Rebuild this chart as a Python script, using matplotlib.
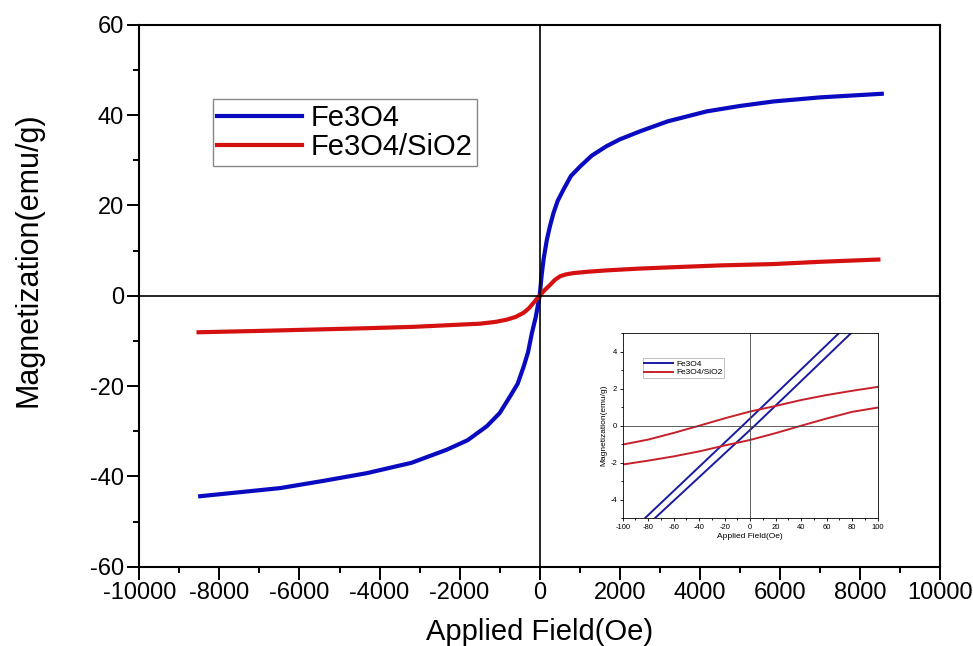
import matplotlib
matplotlib.use("Agg")
import matplotlib.pyplot as plt
from matplotlib.ticker import MultipleLocator

plt.rcParams['font.family'] = ['Liberation Sans', 'DejaVu Sans']
plt.rcParams['axes.unicode_minus'] = False

# main curves (Applied field in Oe, magnetization in emu/g)
h_fe = [-8480, -6480, -5400, -4320, -3200, -2320, -1800, -1320, -1000, -740, -550, -400, -290, -195, -100, -50, 0,
        50, 100, 180, 260, 345, 450, 595, 780, 1010, 1300, 1670, 2000, 2510, 3200, 4170, 5000, 5840, 7000, 8545]
m_fe = [-44.4, -42.6, -41.0, -39.3, -37.0, -34.1, -32.0, -28.9, -26.0, -22.3, -19.5, -15.7, -12.5, -8.3, -4.8, -2.4, 0.0,
        4.6, 8.2, 12.4, 15.5, 18.3, 21.0, 23.5, 26.5, 28.6, 31.0, 33.1, 34.6, 36.4, 38.6, 40.8, 42.0, 43.0, 43.9, 44.7]

h_si = [-8520, -7000, -5650, -4300, -3150, -2200, -1485, -1100, -820, -600, -404, -270, -155, -60, 0,
        60, 120, 262, 380, 510, 650, 845, 1200, 1670, 2500, 3340, 4500, 5840, 7000, 8460]
m_si = [-8.1, -7.8, -7.5, -7.2, -6.9, -6.5, -6.2, -5.8, -5.3, -4.7, -3.8, -2.8, -1.6, -0.6, 0.0,
        0.6, 1.2, 2.4, 3.5, 4.3, 4.7, 5.0, 5.3, 5.6, 6.0, 6.3, 6.7, 7.0, 7.5, 8.0]

# inset: low-field loops
hi_fe_dn = [-82.5, -6, 69.5]
mi_fe_dn = [-5.0, 0.0, 5.0]
hi_fe_up = [-74.7, 3.5, 79]
mi_fe_up = [-5.0, 0.0, 5.0]

hi_si = [-100, -80, -60, -40, -20, 0, 20, 40, 60, 80, 100]
mi_si_dn = [-1.02, -0.75, -0.39, 0.0, 0.4, 0.77, 1.07, 1.39, 1.66, 1.89, 2.1]
mi_si_up = [-2.1, -1.89, -1.66, -1.39, -1.07, -0.77, -0.4, 0.0, 0.39, 0.75, 0.98]

blue = '#0a0ac0'
red = '#d41010'

fig = plt.figure(figsize=(9.73, 6.46), dpi=100)
ax = fig.add_axes([0.1432, 0.1228, 0.8229, 0.839])

ax.plot(h_fe, m_fe, color=blue, lw=3, label='Fe3O4')
ax.plot(h_si, m_si, color=red, lw=3, label='Fe3O4/SiO2')
ax.axhline(0, color='black', lw=1.2)
ax.axvline(0, color='black', lw=1.2)

ax.set_xlim(-10000, 10000)
ax.set_ylim(-60, 60)
ax.xaxis.set_major_locator(MultipleLocator(2000))
ax.xaxis.set_minor_locator(MultipleLocator(1000))
ax.yaxis.set_major_locator(MultipleLocator(20))
ax.yaxis.set_minor_locator(MultipleLocator(10))
ax.tick_params(which='major', direction='out', length=9, width=1.4, labelsize=17, pad=2)
ax.tick_params(which='minor', direction='out', length=4.5, width=1.4)
for s in ax.spines.values():
    s.set_linewidth(1.5)
ax.set_xlabel('Applied Field(Oe)', fontsize=21)
ax.xaxis.set_label_coords(0.5, -0.095)
ax.set_ylabel('Magnetization(emu/g)', fontsize=22)
ax.yaxis.set_label_coords(-0.12, 0.566)

leg = ax.legend(loc='upper left', bbox_to_anchor=(0.092, 0.862), fontsize=21,
                handlelength=2.9, fancybox=False, edgecolor='#888888',
                borderpad=0.15, labelspacing=0.05, handletextpad=0.3,
                borderaxespad=0, framealpha=1)
leg.get_frame().set_linewidth(1)

# inset
ax2 = fig.add_axes([0.640, 0.198, 0.262, 0.286])
ax2.plot(hi_fe_dn, mi_fe_dn, color='#1a1aa0', lw=1.4, label='Fe3O4')
ax2.plot(hi_fe_up, mi_fe_up, color='#1a1aa0', lw=1.4)
ax2.plot(hi_si, mi_si_dn, color='#c8202a', lw=1.4, label='Fe3O4/SiO2')
ax2.plot(hi_si, mi_si_up, color='#c8202a', lw=1.4)
ax2.axhline(0, color='#444444', lw=0.6)
ax2.axvline(0, color='#444444', lw=0.6)
ax2.set_xlim(-100, 100)
ax2.set_ylim(-5, 5)
ax2.xaxis.set_major_locator(MultipleLocator(20))
ax2.xaxis.set_minor_locator(MultipleLocator(10))
ax2.yaxis.set_major_locator(MultipleLocator(2))
ax2.yaxis.set_minor_locator(MultipleLocator(1))
ax2.tick_params(which='major', direction='out', length=2.5, width=0.6, labelsize=5.5, pad=1.5)
ax2.tick_params(which='minor', direction='out', length=1.5, width=0.6)
for s in ax2.spines.values():
    s.set_linewidth(0.6)
ax2.set_xlabel('Applied Field(Oe)', fontsize=6, labelpad=2)
ax2.set_ylabel('Magnetization(emu/g)', fontsize=6, labelpad=2)
leg2 = ax2.legend(loc='upper left', bbox_to_anchor=(0.078, 0.865), fontsize=6,
                  handlelength=3.5, fancybox=False, edgecolor='#aaaaaa',
                  borderpad=0.2, labelspacing=0.1, handletextpad=0.3,
                  borderaxespad=0, framealpha=1)
leg2.get_frame().set_linewidth(0.5)

fig.savefig('out.png', dpi=100)
